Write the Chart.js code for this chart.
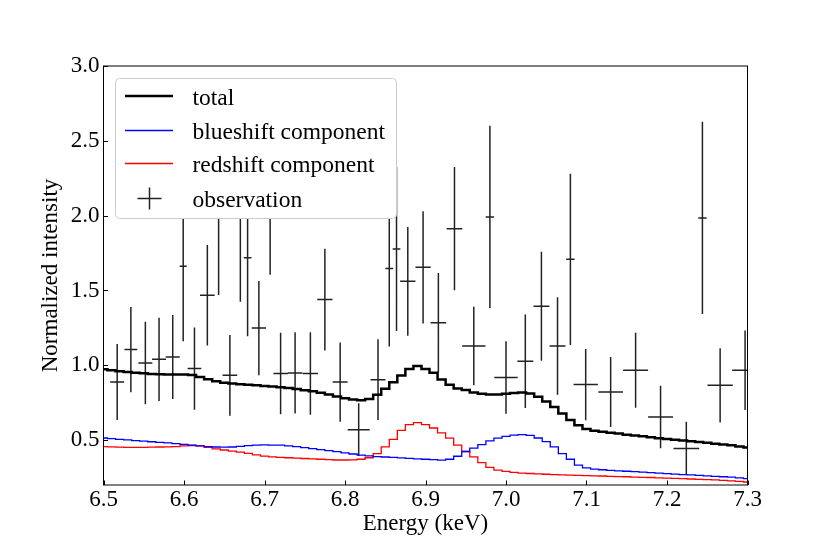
<!DOCTYPE html>
<html>
<head>
<meta charset="utf-8">
<script src="https://cdn.jsdelivr.net/npm/chart.js@4.4.1/dist/chart.umd.min.js"></script>
<style>
  html, body { margin: 0; padding: 0; background: #fff; }
  #wrap { width: 830px; height: 554px; }
</style>
</head>
<body>
<div id="wrap"><canvas id="spec" width="830" height="554"></canvas></div>
<script>
// model energy grid (keV)
const modelEnergy = [
  6.50, 6.51, 6.52, 6.53, 6.54, 6.55, 6.56, 6.57, 6.58, 6.59,
  6.60, 6.61, 6.62, 6.63, 6.64, 6.65, 6.66, 6.67, 6.68, 6.69,
  6.70, 6.71, 6.72, 6.73, 6.74, 6.75, 6.76, 6.77, 6.78, 6.79,
  6.80, 6.81, 6.82, 6.83, 6.84, 6.85, 6.86, 6.87, 6.88, 6.89,
  6.90, 6.91, 6.92, 6.93, 6.94, 6.95, 6.96, 6.97, 6.98, 6.99,
  7.00, 7.01, 7.02, 7.03, 7.04, 7.05, 7.06, 7.07, 7.08, 7.09,
  7.10, 7.11, 7.12, 7.13, 7.14, 7.15, 7.16, 7.17, 7.18, 7.19,
  7.20, 7.21, 7.22, 7.23, 7.24, 7.25, 7.26, 7.27, 7.28, 7.29,
  7.30
];

const totalModel = [
  0.973, 0.966, 0.960, 0.955, 0.950, 0.946, 0.942, 0.940, 0.938, 0.938,
  0.938, 0.935, 0.922, 0.907, 0.893, 0.884, 0.879, 0.874, 0.870, 0.866,
  0.862, 0.858, 0.853, 0.848, 0.842, 0.834, 0.826, 0.817, 0.805, 0.792,
  0.779, 0.771, 0.767, 0.775, 0.803, 0.843, 0.887, 0.932, 0.975, 0.995,
  0.976, 0.950, 0.905, 0.870, 0.845, 0.835, 0.818, 0.810, 0.805, 0.804,
  0.810, 0.815, 0.818, 0.811, 0.790, 0.758, 0.722, 0.678, 0.635, 0.600,
  0.575, 0.563, 0.556, 0.550, 0.544, 0.535, 0.530, 0.525, 0.519, 0.513,
  0.508, 0.503, 0.498, 0.492, 0.487, 0.482, 0.476, 0.471, 0.465, 0.458,
  0.450
];

const blueModel = [
  0.514, 0.510, 0.505, 0.501, 0.497, 0.493, 0.489, 0.485, 0.481, 0.477,
  0.472, 0.467, 0.461, 0.457, 0.454, 0.453, 0.454, 0.458, 0.463, 0.467,
  0.468, 0.467, 0.466, 0.462, 0.456, 0.450, 0.443, 0.437, 0.430, 0.423,
  0.415, 0.407, 0.399, 0.394, 0.390, 0.387, 0.384, 0.381, 0.378, 0.375,
  0.372, 0.369, 0.366, 0.372, 0.392, 0.424, 0.446, 0.470, 0.495, 0.513,
  0.525, 0.533, 0.537, 0.532, 0.514, 0.490, 0.455, 0.410, 0.372, 0.333,
  0.315, 0.306, 0.302, 0.298, 0.295, 0.292, 0.290, 0.286, 0.283, 0.279,
  0.276, 0.273, 0.270, 0.267, 0.264, 0.261, 0.258, 0.255, 0.252, 0.248,
  0.243
];

const redModel = [
  0.457, 0.455, 0.453, 0.452, 0.452, 0.452, 0.453, 0.454, 0.455, 0.457,
  0.461, 0.464, 0.461, 0.452, 0.442, 0.434, 0.427, 0.420, 0.411, 0.401,
  0.393, 0.388, 0.385, 0.382, 0.379, 0.377, 0.375, 0.372, 0.369, 0.367,
  0.367, 0.368, 0.372, 0.382, 0.410, 0.455, 0.505, 0.565, 0.603, 0.617,
  0.604, 0.581, 0.548, 0.513, 0.467, 0.424, 0.388, 0.349, 0.318, 0.300,
  0.291, 0.285, 0.280, 0.277, 0.274, 0.272, 0.270, 0.268, 0.266, 0.264,
  0.263, 0.261, 0.260, 0.258, 0.256, 0.255, 0.253, 0.251, 0.250, 0.248,
  0.246, 0.244, 0.242, 0.240, 0.238, 0.236, 0.234, 0.231, 0.228, 0.224,
  0.220
];

// observed spectrum
const obsEnergy = [
  6.517, 6.534, 6.552, 6.569, 6.586, 6.599, 6.613, 6.629, 6.643, 6.657,
  6.670, 6.679, 6.693, 6.707, 6.720, 6.738, 6.757, 6.775, 6.794, 6.817,
  6.841, 6.855, 6.864, 6.878, 6.897, 6.916, 6.936, 6.960, 6.980, 7.000,
  7.024, 7.044, 7.064, 7.080, 7.099, 7.130, 7.161, 7.192, 7.224, 7.244,
  7.266, 7.297
];
const obsEnergyErr = [
  0.0087, 0.0080, 0.0087, 0.0087, 0.0087, 0.0044, 0.0085, 0.0091, 0.0050, 0.0091,
  0.0040, 0.0048, 0.0089, 0.0045, 0.0089, 0.0091, 0.0095, 0.0095, 0.0093, 0.0137,
  0.0093, 0.0048, 0.0048, 0.0095, 0.0095, 0.0097, 0.0097, 0.0145, 0.0052, 0.0145,
  0.0099, 0.0099, 0.0099, 0.0052, 0.0151, 0.0153, 0.0155, 0.0155, 0.0160, 0.0052,
  0.0157, 0.0160
];
const obsValue = [
  0.888, 1.105, 1.015, 1.040, 1.055, 1.661, 0.978, 1.468, 2.050, 0.933,
  2.060, 1.719, 1.249, 2.150, 0.945, 0.949, 0.945, 1.439, 0.888, 0.570,
  0.904, 1.646, 1.777, 1.561, 1.655, 1.285, 1.913, 1.129, 1.991, 0.918,
  1.027, 1.394, 1.129, 1.708, 0.871, 0.822, 0.967, 0.655, 0.444, 1.985,
  0.866, 0.967
];
const obsValueErr = [
  0.254, 0.285, 0.276, 0.278, 0.281, 0.500, 0.275, 0.336, 0.580, 0.270,
  0.635, 0.525, 0.315, 0.545, 0.272, 0.272, 0.275, 0.340, 0.265, 0.176,
  0.270, 0.520, 0.548, 0.363, 0.375, 0.332, 0.412, 0.262, 0.609, 0.242,
  0.312, 0.364, 0.326, 0.572, 0.238, 0.234, 0.250, 0.209, 0.178, 0.643,
  0.248, 0.265
];

const xTicks = [6.5, 6.6, 6.7, 6.8, 6.9, 7.0, 7.1, 7.2, 7.3];
const yTicks = [0.5, 1.0, 1.5, 2.0, 2.5, 3.0];
const seriesLabels = ['total', 'blueshift component', 'redshift component', 'observation'];

const serif = "'Liberation Serif', 'DejaVu Serif', serif";

// build {x,y} lists for the library
const toXY = (xs, ys) => xs.map((x, i) => ({ x: x, y: ys[i] }));

// error bars as broken line segments (null splits them)
const vBars = [];
const hBars = [];
obsEnergy.forEach((e, i) => {
  vBars.push({ x: e, y: obsValue[i] - obsValueErr[i] });
  vBars.push({ x: e, y: obsValue[i] + obsValueErr[i] });
  vBars.push({ x: e, y: null });
  hBars.push({ x: e - obsEnergyErr[i], y: obsValue[i] });
  hBars.push({ x: e + obsEnergyErr[i], y: obsValue[i] });
  hBars.push({ x: e, y: null });
});

// frame + inward ticks like matplotlib
const frameTicks = {
  id: 'frameTicks',
  afterDatasetsDraw(chart) {
    const { ctx, chartArea: a, scales } = chart;
    ctx.save();
    ctx.strokeStyle = '#000';
    ctx.lineWidth = 1;
    ctx.beginPath();
    xTicks.forEach(v => {
      const px = Math.round(scales.x.getPixelForValue(v)) + 0.5;
      ctx.moveTo(px, a.bottom);
      ctx.lineTo(px, a.bottom - 4.5);
    });
    yTicks.forEach(v => {
      const py = Math.round(scales.y.getPixelForValue(v)) + 0.5;
      ctx.moveTo(a.left, py);
      ctx.lineTo(a.left + 4.5, py);
    });
    ctx.stroke();
    ctx.strokeRect(a.left, a.top, a.right - a.left, a.bottom - a.top);
    ctx.restore();
  }
};

// legend box inside the axes (upper left)
const innerLegend = {
  id: 'innerLegend',
  afterDatasetsDraw(chart) {
    const { ctx } = chart;
    const x0 = 115.5, y0 = 78.5, w = 281, h = 140;
    ctx.save();
    ctx.beginPath();
    ctx.roundRect(x0, y0, w, h, 4);
    ctx.fillStyle = '#fff';
    ctx.fill();
    ctx.strokeStyle = '#cccccc';
    ctx.lineWidth = 1;
    ctx.stroke();

    const rows = [96, 130.5, 163.5, 198.5];
    const styles = [
      { color: '#000', width: 2.5 },
      { color: '#0000ff', width: 1.3 },
      { color: '#ff0000', width: 1.3 }
    ];
    styles.forEach((s, i) => {
      ctx.beginPath();
      ctx.strokeStyle = s.color;
      ctx.lineWidth = s.width;
      ctx.moveTo(125, rows[i]);
      ctx.lineTo(173, rows[i]);
      ctx.stroke();
    });
    // errorbar marker
    ctx.beginPath();
    ctx.strokeStyle = '#222';
    ctx.lineWidth = 1.5;
    ctx.moveTo(137.5, rows[3]);
    ctx.lineTo(161.5, rows[3]);
    ctx.moveTo(149.5, rows[3] - 11);
    ctx.lineTo(149.5, rows[3] + 11);
    ctx.stroke();

    ctx.fillStyle = '#000';
    ctx.font = '23.5px ' + serif;
    ctx.textBaseline = 'alphabetic';
    ctx.textAlign = 'left';
    seriesLabels.forEach((t, i) => ctx.fillText(t, 192.5, rows[i] + 8.5));
    ctx.restore();
  }
};

new Chart(document.getElementById('spec'), {
  type: 'line',
  data: {
    datasets: [
      {
        label: seriesLabels[0],
        data: toXY(modelEnergy, totalModel),
        borderColor: '#000',
        borderWidth: 2.5,
        stepped: 'middle',
        pointRadius: 0
      },
      {
        label: seriesLabels[1],
        data: toXY(modelEnergy, blueModel),
        borderColor: '#0000ff',
        borderWidth: 1.3,
        stepped: 'middle',
        pointRadius: 0
      },
      {
        label: seriesLabels[2],
        data: toXY(modelEnergy, redModel),
        borderColor: '#ff0000',
        borderWidth: 1.3,
        stepped: 'middle',
        pointRadius: 0
      },
      {
        label: seriesLabels[3],
        data: vBars,
        borderColor: '#222',
        borderWidth: 1.5,
        pointRadius: 0,
        spanGaps: false
      },
      {
        label: seriesLabels[3] + ' x',
        data: hBars,
        borderColor: '#222',
        borderWidth: 1.5,
        pointRadius: 0,
        spanGaps: false
      }
    ]
  },
  options: {
    responsive: false,
    animation: false,
    layout: { padding: { top: 66, right: 82.5, left: 0, bottom: 0 } },
    plugins: {
      legend: { display: false },
      tooltip: { enabled: false }
    },
    scales: {
      x: {
        type: 'linear',
        min: 6.5,
        max: 7.3,
        grid: { display: false, drawTicks: false },
        border: { display: false },
        afterBuildTicks: s => { s.ticks = xTicks.map(v => ({ value: v })); },
        afterFit: s => { s.height = 69; },
        ticks: {
          padding: 1,
          color: '#000',
          font: { family: serif, size: 23 },
          maxRotation: 0,
          callback: v => v.toFixed(1)
        },
        title: {
          display: true,
          text: 'Energy (keV)',
          color: '#000',
          font: { family: serif, size: 23 },
          padding: { top: 0, bottom: 16 }
        }
      },
      y: {
        min: 0.2,
        max: 3.0,
        grid: { display: false, drawTicks: false },
        border: { display: false },
        afterBuildTicks: s => { s.ticks = yTicks.map(v => ({ value: v })); },
        afterFit: s => { s.width = 103.5; },
        ticks: {
          padding: 4,
          color: '#000',
          font: { family: serif, size: 23 },
          callback: v => v.toFixed(1)
        },
        title: {
          display: true,
          text: 'Normalized intensity',
          color: '#000',
          font: { family: serif, size: 23 },
          padding: { top: 37, bottom: 0 }
        }
      }
    }
  },
  plugins: [frameTicks, innerLegend]
});
</script>
</body>
</html>
